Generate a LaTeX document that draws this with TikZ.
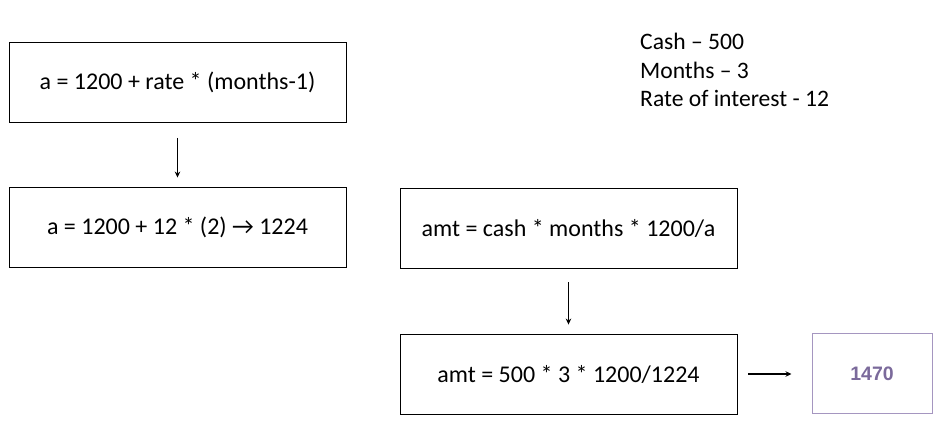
\documentclass[tikz,border=0pt]{standalone}
\usepackage{fontspec}
\setmainfont{Carlito}
\newfontfamily\resultfont{Liberation Sans}
\usetikzlibrary{arrows.meta}
\definecolor{resultpurple}{HTML}{7B6A9B}
\definecolor{resultborder}{HTML}{A596C0}
\tikzset{
  calcbox/.style={draw=black, line width=0.9pt, minimum width=337pt, minimum height=80pt, font=\fontsize{24}{29}\selectfont},
  resultbox/.style={draw=resultborder, line width=1pt, minimum width=120pt, minimum height=80pt, text=resultpurple, font=\resultfont\bfseries\fontsize{19.5}{23}\selectfont},
  given/.style={anchor=base west, inner sep=0pt, font=\fontsize{23.6}{28}\selectfont},
  flow/.style={-{Stealth[length=6pt,width=5.5pt]}, line width=1.6pt}
}
\begin{document}
\begin{tikzpicture}[x=1pt,y=-1pt]
   \useasboundingbox (0,0) rectangle (946,446);

   \node (Formula) at (177.5,82.5) [calcbox] {a = 1200 + rate * (months-1)};
   \node (FormulaVal) at (177.5,227) [calcbox] {a = 1200 + 12 * (2) → 1224};

   \node (Amount) at (568.5,228) [calcbox] {amt = cash * months * 1200/a};
   \node (AmountVal) at (568.5,374) [calcbox] {amt = 500 * 3 * 1200/1224};

   \node (Result) at (872,374) [resultbox] {1470};

   \node (Cash) at (640,50) [given] {Cash – 500};
   \node (Months) at (640,79) [given] {Months – 3};
   \node (Rate) at (640,107) [given] {Rate of interest - 12};

   \draw [flow, shorten <=15pt, shorten >=9pt] (Formula.south) -- (FormulaVal.north);
   \draw [flow, shorten <=14pt, shorten >=9pt] (Amount.south) -- (AmountVal.north);
   \draw [flow, shorten <=11pt, shorten >=20pt] (AmountVal.east) -- (Result.west);

\end{tikzpicture}
\end{document}
